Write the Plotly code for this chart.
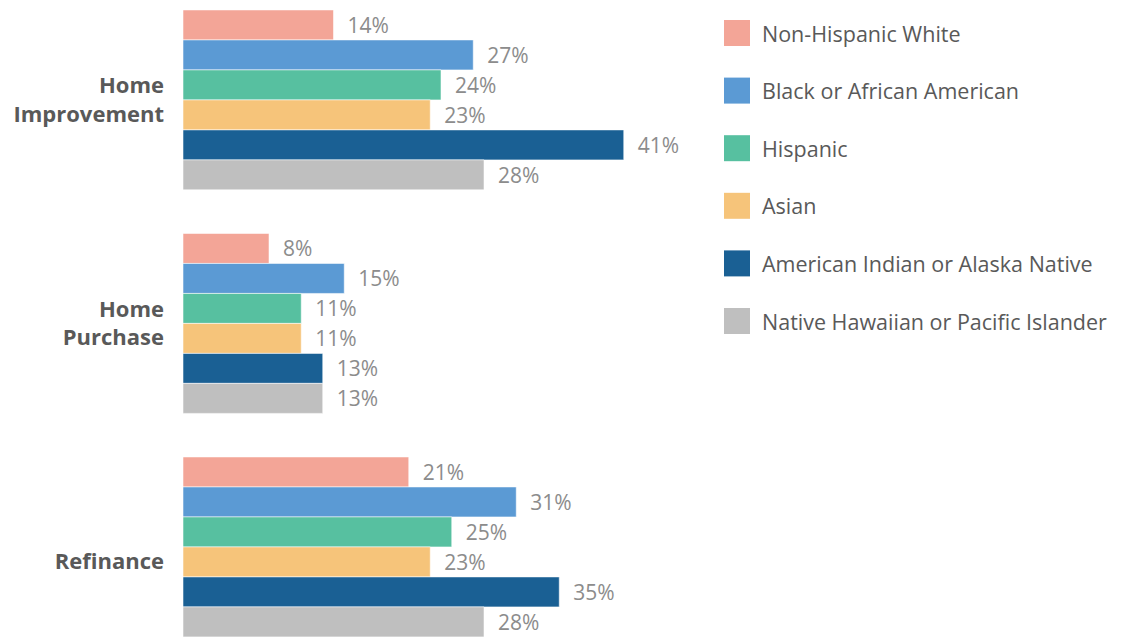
import plotly.graph_objects as go

# Loan purpose categories (top to bottom)
categories = ["Home<br>Improvement", "Home<br>Purchase", "<br>Refinance"]

# Series names and colours
series_names = [
    "Non-Hispanic White",
    "Black or African American",
    "Hispanic",
    "Asian",
    "American Indian or Alaska Native",
    "Native Hawaiian or Pacific Islander",
]
series_colors = ["#F3A597", "#5B9AD4", "#57C0A0", "#F6C47A", "#1A6094", "#BFBFBF"]

# Percentages per series, in category order
non_hispanic_white = [14, 8, 21]
black_african_american = [27, 15, 31]
hispanic = [24, 11, 25]
asian = [23, 11, 23]
american_indian_alaska_native = [41, 13, 35]
native_hawaiian_pacific_islander = [28, 13, 28]

series_values = [
    non_hispanic_white,
    black_african_american,
    hispanic,
    asian,
    american_indian_alaska_native,
    native_hawaiian_pacific_islander,
]

W, H = 1128, 637
LEFT = 183
NBSP = "\u00a0"

fig = go.Figure()
for name, color, vals in zip(series_names, series_colors, series_values):
    fig.add_trace(
        go.Bar(
            y=categories,
            x=vals,
            name=name,
            orientation="h",
            marker=dict(color=color, line=dict(color="rgba(255,255,255,0.55)", width=1)),
            text=[f"{NBSP * 2}{v}%" for v in vals],
            textposition="outside",
            textfont=dict(family="Open Sans", size=21, color="#8C8C8C"),
            cliponaxis=False,
            showlegend=False,
        )
    )

# Legend drawn as swatches + labels on the right
def px_x(px):
    return (px - LEFT) / (W - LEFT)

def px_y(py):
    return 1 - py / H

shapes = []
annotations = []
for i, (name, color) in enumerate(zip(series_names, series_colors)):
    cy = 33 + i * 57.6
    shapes.append(
        dict(
            type="rect", xref="paper", yref="paper",
            x0=px_x(724), x1=px_x(750), y0=px_y(cy + 13), y1=px_y(cy - 13),
            fillcolor=color, line=dict(width=0),
        )
    )
    annotations.append(
        dict(
            x=px_x(760), y=px_y(cy), xref="paper", yref="paper",
            text=name, showarrow=False, xanchor="left", yanchor="middle",
            font=dict(family="Open Sans", size=21.5, color="#595959"),
        )
    )

fig.update_layout(
    width=W,
    height=H,
    margin=dict(l=LEFT, r=0, t=0, b=0),
    paper_bgcolor="white",
    plot_bgcolor="white",
    barmode="group",
    bargap=0.195,
    bargroupgap=0,
    shapes=shapes,
    annotations=annotations,
    xaxis=dict(range=[0, (W - LEFT) / 10.75], visible=False, fixedrange=True),
    yaxis=dict(
        type="category",
        range=[2.403, -0.447],
        showgrid=False,
        zeroline=False,
        showline=False,
        ticks="",
        ticklabelstandoff=18,
        tickfont=dict(family="Open Sans", size=22, color="#595959", weight="bold"),
    ),
)

fig.write_html("out.html")
